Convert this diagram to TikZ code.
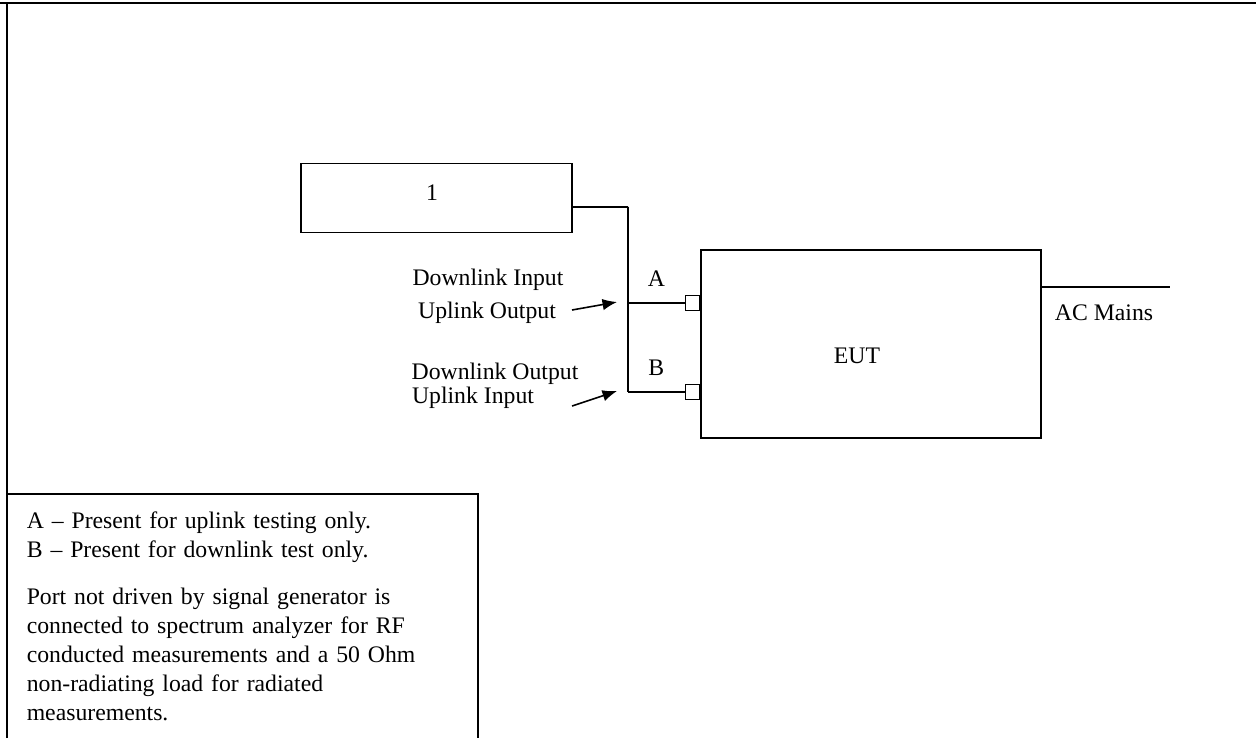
\documentclass[tikz,border=0pt]{standalone}
\usepackage{fontspec}
\setmainfont{Liberation Serif}
\usetikzlibrary{positioning,arrows.meta}
\begin{document}
\begin{tikzpicture}[x=0.02cm,y=-0.02cm,>={Latex[length=2.9mm,width=2.3mm]},line width=0.9pt,
    font=\fontsize{13.5}{16.5}\selectfont,
    unitbox/.style={draw,inner sep=0pt},
    port/.style={draw,inner sep=0pt,minimum width=0.28cm,minimum height=0.3cm},
    lbl/.style={inner sep=0pt}]
  \useasboundingbox (0,0) rectangle (1256,738);
  % outer frame
  \draw[line width=1.2pt] (0,3)--(1256,3);
  \draw (7,3)--(7,494);
  % units
  \node[unitbox,minimum width=5.42cm,minimum height=1.38cm] (gen) at (436.5,198) {};
  \node[lbl] (genlbl) at (432,193) {1};
  \node[unitbox,minimum width=6.8cm,minimum height=3.76cm] (eut) at (871,344) {};
  \node[lbl] (eutlbl) at (857,356) {EUT};
  % wiring
  \coordinate (jn) at (628,207);
  \coordinate (ja) at (628,303);
  \coordinate (jb) at (628,392);
  \node[port,anchor=east] (portA) at (eut.west |- ja) {};
  \node[port,anchor=east] (portB) at (eut.west |- jb) {};
  \draw ([yshift=-0.18cm]gen.east)--(jn);
  \draw[line width=1.4pt] (jn)--(ja);
  \draw (ja)--(jb);
  \draw (ja)--(portA.west) node[midway,above=9pt,lbl]{A};
  \draw (jb)--(portB.west) node[midway,above=9pt,lbl]{B};
  % mains
  \coordinate (mains) at (1170,287);
  \draw (eut.east |- mains)--(mains);
  \node[lbl] (acm) at (1104,313) {AC Mains};
  % port labels
  \node[lbl] (dlin) at (488,280) {Downlink Input};
  \node[lbl] (ulout) at (487,313) {Uplink Output};
  \node[lbl] (dlout) at (495,374) {Downlink Output};
  \node[lbl] (ulin) at (473,398) {Uplink Input};
  \coordinate (tipA) at (617,302);
  \coordinate (tipB) at (617,391);
  \draw[->] (572,310)--(tipA);
  \draw[->] (572,406)--(tipB);
  % notes
  \draw (7,738)--(7,494)--(478,494)--(478,738);
  \node[lbl,anchor=north west,text width=9.2cm,align=left] (notes) at (26,511) {%
    A -- Present for uplink testing only.\\
    B -- Present for downlink test only.\\[10.5pt]
    Port not driven by signal generator is\\
    connected to spectrum analyzer for RF\\
    conducted measurements and a 50 Ohm\\
    non-radiating load for radiated\\
    measurements.};
\end{tikzpicture}
\end{document}
